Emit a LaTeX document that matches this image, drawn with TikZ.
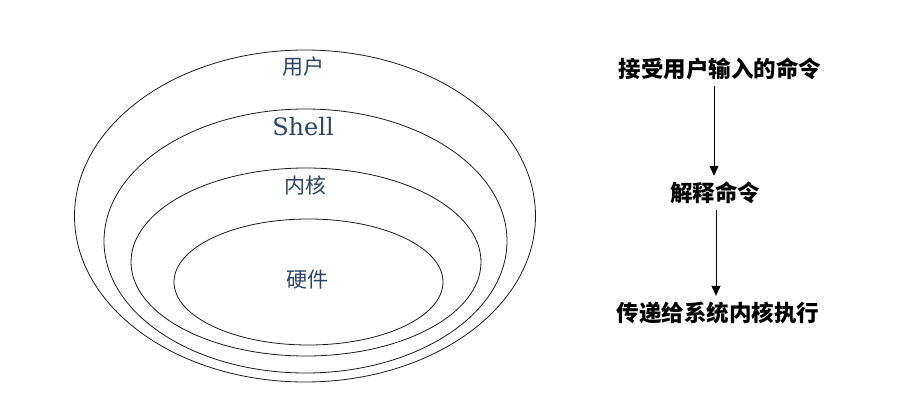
\documentclass[tikz,border=0pt]{standalone}
\usepackage{fontspec}
\setmainfont{DejaVu Serif}
\newfontfamily\cjk{Noto Sans CJK SC}
\usetikzlibrary{arrows.meta,positioning,shapes.geometric}
\definecolor{ink}{HTML}{1A1A1A}
\definecolor{layertext}{HTML}{2C4566}
\tikzset{
  >={Triangle[width=9pt,length=10pt]},
  layer/.style={draw=ink,line width=0.8pt,ellipse,inner sep=0pt},
  layername/.style={font=\fontsize{21}{23}\selectfont\cjk,text=layertext,inner sep=1pt},
  step text/.style={font=\fontsize{22.5}{25}\selectfont\cjk\bfseries,text=black,inner sep=6pt},
  arrow/.style={->,line width=1pt,draw=black},
}
\begin{document}
\begin{tikzpicture}[x=1pt,y=-1pt]
  \useasboundingbox (0,0) rectangle (914,415);
  % nested layers
  \node[layer,minimum width=461pt,minimum height=332pt] (user) at (305,216) {};
  \node[layer,minimum width=403pt,minimum height=264pt] (shell) at (305.5,241) {};
  \node[layer,minimum width=350pt,minimum height=188pt] (kernel) at (306,262) {};
  \node[layer,minimum width=269pt,minimum height=126pt] (hw) at (308.5,282) {};
  \node[layername] (userlbl) at (303,67) {用户};
  \node[layername,font=\fontsize{24}{26}\selectfont] (shelllbl) at (303,127) {Shell};
  \node[layername] (kernellbl) at (305,185) {内核};
  \node[layername] (hwlbl) at (307,280) {硬件};

  % what the shell does
  \node[step text] (accept) at (720,69) {接受用户输入的命令};
  \node[step text] (explain) at (715,193) {解释命令};
  \node[step text] (pass) at (718,313) {传递给系统内核执行};
  \draw[arrow] (accept.south -| 714,0) -- (explain.north -| 714,0);
  \draw[arrow] (explain.south -| 716,0) -- (pass.north -| 716,0);
\end{tikzpicture}
\end{document}
